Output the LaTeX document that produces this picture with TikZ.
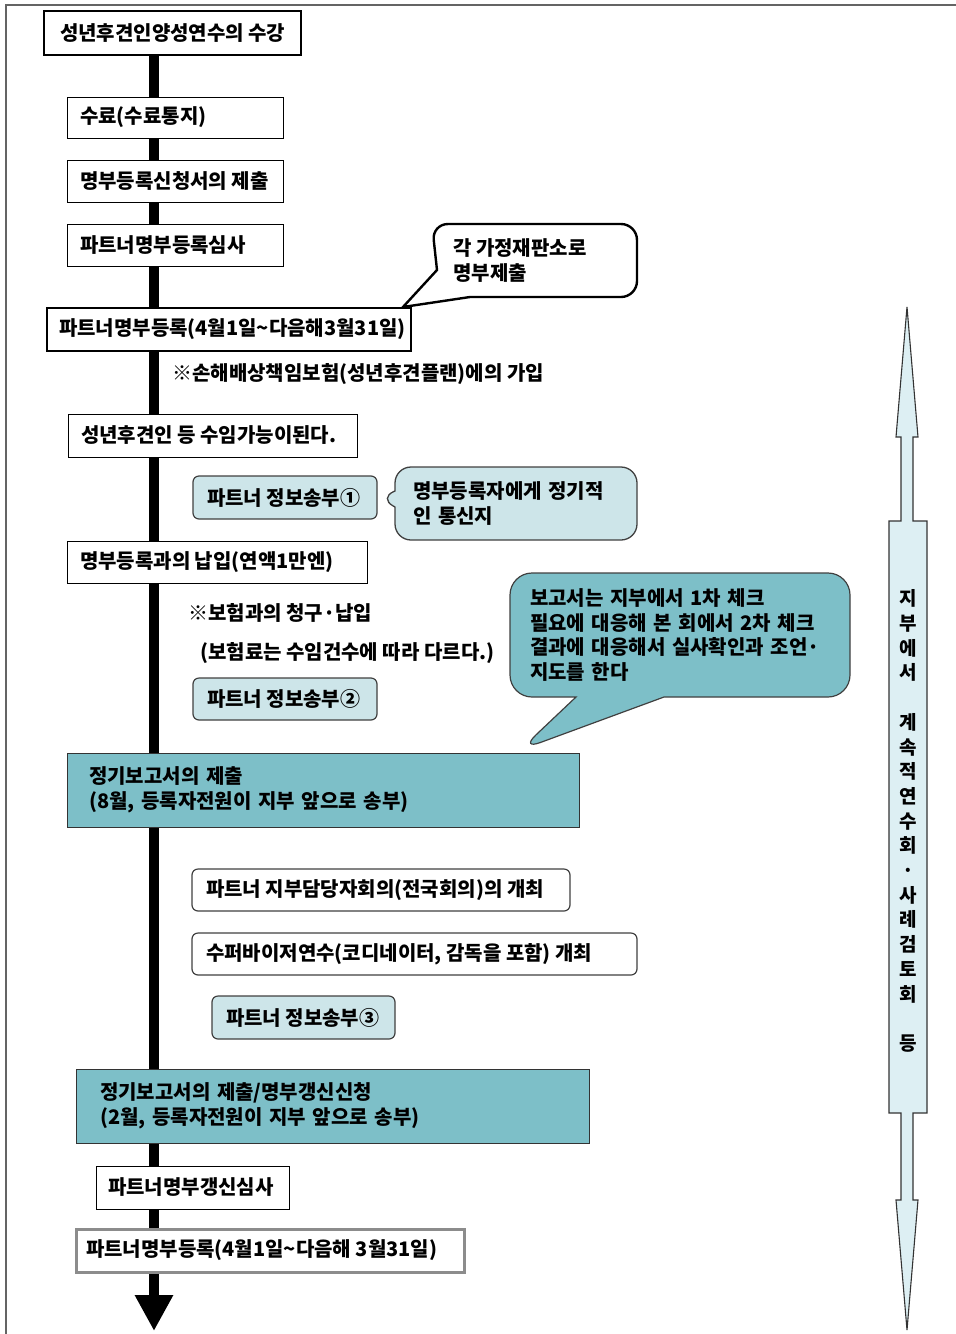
\documentclass[tikz,border=0pt]{standalone}
\usepackage{fontspec}
\setmainfont{Noto Sans CJK KR}
\usetikzlibrary{shapes.callouts,arrows.meta}
\definecolor{tealfill}{RGB}{125,191,200}
\definecolor{lbluefill}{RGB}{205,229,233}
\definecolor{palefill}{RGB}{221,239,243}
\definecolor{framegray}{RGB}{100,100,100}
\newcommand{\lbx}[2]{\makebox[#1][l]{#2}}
\tikzset{
  sq/.style={draw=black, line width=0.9pt, fill=white, anchor=north west, outer sep=0pt, inner ysep=0pt},
  thickbox/.style={sq, line width=2.6pt},
  rnd/.style={sq, rounded corners=6pt, draw=black!75, line width=1.2pt},
  infobox/.style={rnd, fill=lbluefill},
  tealbox/.style={sq, align=left, fill=tealfill, draw=black!80, line width=0.9pt, font=\fontsize{20}{25}\selectfont\bfseries},
  note/.style={anchor=west, inner sep=0pt},
  bubble/.style={rectangle callout, align=left, inner ysep=0pt, font=\fontsize{20}{24.5}\selectfont\bfseries},
}
\begin{document}
\begin{tikzpicture}[x=1pt,y=-1pt, every node/.append style={font=\fontsize{20}{23}\selectfont\bfseries}]
\useasboundingbox (0,0) rectangle (956,1334);
% outer frame
\coordinate (fr1) at (956,5);
\coordinate (fr2) at (6,5);
\coordinate (fr3) at (6,1334);
\draw[framegray, line width=1.6pt] (fr1) -- (fr2) -- (fr3);

% main time line
\coordinate (ltop) at (154,55);
\coordinate (lbot) at (154,1331);
\draw[line width=9.5pt, -{Triangle[width=36pt,length=36pt]}] (ltop) -- (lbot);

% right double arrow
\draw[fill=palefill, draw=black!80, line width=1.1pt]
  (907,307) -- (918,437) -- (913,437) -- (913,521) -- (927,521) -- (927,1113) -- (913,1113)
  -- (913,1200) -- (918,1200) -- (907,1330) -- (896,1200) -- (901,1200) -- (901,1113)
  -- (889,1113) -- (889,521) -- (901,521) -- (901,437) -- (896,437) -- cycle;
\node[align=center, inner sep=0pt, font=\fontsize{19}{24.7}\selectfont\bfseries] (vt) at (908,821)
  {지\\부\\에\\서\\~\\계\\속\\적\\연\\수\\회\\·\\사\\례\\검\\토\\회\\~\\등};

% boxes
\node[thickbox, inner xsep=16pt, minimum height=44pt] (n1) at (44,11) {\lbx{225pt}{성년후견인양성연수의 수강}};
\node[sq, inner xsep=13pt, minimum height=41pt] (n2) at (67,97) {\lbx{190pt}{수료(수료통지)}};
\node[sq, inner xsep=13pt, minimum height=42pt] (n3) at (67,160) {\lbx{190pt}{명부등록신청서의 제출}};
\node[sq, inner xsep=13pt, minimum height=42pt] (n4) at (67,224) {\lbx{190pt}{파트너명부등록심사}};
\node[thickbox, inner xsep=12pt, minimum height=43pt] (n5) at (47,308) {\lbx{340pt}{파트너명부등록(4월1일\textasciitilde 다음해3월31일)}};
\node[note] (t1) at (172,374) {※손해배상책임보험(성년후견플랜)에의 가입};
\node[sq, inner xsep=13pt, minimum height=43pt] (n7) at (68,414) {\lbx{263pt}{성년후견인 등 수임가능이된다.}};
\node[infobox, inner xsep=14pt, minimum height=43pt] (n8) at (193,476) {\lbx{156pt}{파트너 정보송부①}};
\node[sq, inner xsep=13pt, minimum height=42pt] (n9) at (67,541) {\lbx{274pt}{명부등록과의 납입(연액1만엔)}};
\node[note] (t2) at (188,613) {※보험과의 청구·납입};
\node[note] (t3) at (200,653) {(보험료는 수임건수에 따라 다르다.)};
\node[infobox, inner xsep=14pt, minimum height=42pt] (n10) at (193,678) {\lbx{156pt}{파트너 정보송부②}};
\node[tealbox, text width=468pt, inner xsep=22pt, minimum height=74pt] (n11) at (67,753) {정기보고서의 제출\\ (8월, 등록자전원이 지부 앞으로 송부)};
\node[rnd, inner xsep=14pt, minimum height=42pt] (n12) at (192,869) {\lbx{350pt}{파트너 지부담당자회의(전국회의)의 개최}};
\node[rnd, inner xsep=14pt, minimum height=42pt] (n13) at (192,933) {\lbx{417pt}{수퍼바이저연수(코디네이터, 감독을 포함) 개최}};
\node[infobox, inner xsep=14pt, minimum height=43pt] (n14) at (212,996) {\lbx{155pt}{파트너 정보송부③}};
\node[tealbox, text width=465pt, inner xsep=24pt, minimum height=74pt] (n15) at (76,1069) {정기보고서의 제출/명부갱신신청\\ (2월, 등록자전원이 지부 앞으로 송부)};
\node[sq, inner xsep=12pt, minimum height=43pt] (n16) at (96,1166) {\lbx{169pt}{파트너명부갱신심사}};
\node[sq, draw=black!45, line width=3pt, inner xsep=10pt, minimum height=43pt] (n17) at (76,1229) {\lbx{368pt}{파트너명부등록(4월1일\textasciitilde 다음해 3월31일)}};

% callout to the family courts (drawn as one outline with its tail)
\coordinate (p0) at (403,307);
\coordinate (c0a) at (437,270);
\coordinate (c0b) at (432,224);
\coordinate (c0c) at (637,224);
\coordinate (c0d) at (637,297);
\coordinate (c0e) at (470,297);
\draw[line width=2.4pt, fill=white] (p0) -- (c0a) [rounded corners=16pt] -- (c0b) -- (c0c) -- (c0d) [sharp corners] -- (c0e) -- cycle;
\node[align=left, inner sep=0pt, anchor=west, font=\fontsize{20}{24.5}\selectfont\bfseries] (c0) at (453,260.5)
  {각 가정재판소로\\명부제출};

% other callouts
\coordinate (p1) at (379,498);
\coordinate (p2) at (520,750);
\node[bubble, draw=black!75, line width=1.3pt, fill=lbluefill, rounded corners=16pt,
      minimum width=242pt, minimum height=73pt, text width=206pt, inner xsep=18pt,
      callout absolute pointer={(p1)}, callout pointer width=16pt] (c1) at (516,503.5)
  {명부등록자에게 정기적\\인 통신지};
\node[bubble, draw=black!75, line width=1.2pt, fill=tealfill, rounded corners=22pt,
      minimum width=340pt, minimum height=124pt, text width=300pt, inner xsep=20pt,
      callout absolute pointer={(p2)}, callout pointer width=88pt] (c2) at (680,635)
  {보고서는 지부에서 1차 체크\\필요에 대응해 본 회에서 2차 체크\\결과에 대응해서 실사확인과 조언·\\지도를 한다};
\end{tikzpicture}
\end{document}
